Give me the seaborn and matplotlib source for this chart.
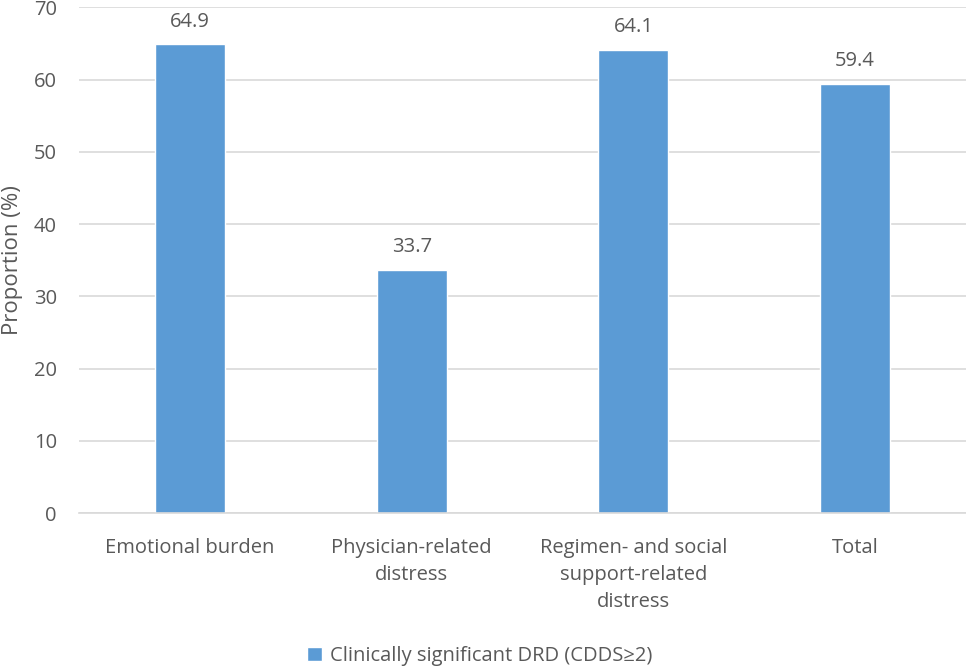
import pandas as pd
import matplotlib.pyplot as plt
import seaborn as sns

# data
categories = ["Emotional burden", "Physician-related\ndistress",
              "Regimen- and social\nsupport-related\ndistress", "Total"]
proportions = [64.9, 33.7, 64.1, 59.4]
series_name = "Clinically significant DRD (CDDS\u22652)"
yticks = [0, 10, 20, 30, 40, 50, 60, 70]

bar_color = "#5B9BD5"
text_color = "#595959"

sns.set_style("white")
plt.rcParams['font.family'] = ['Open Sans', 'DejaVu Sans']

df = pd.DataFrame({"category": categories, "value": proportions, "series": series_name})

fig = plt.figure(figsize=(9.66, 6.68), dpi=100)
ax = fig.add_axes([0.082, 0.232, 0.918, 0.757])

sns.barplot(data=df, x="category", y="value", hue="series",
            palette=[bar_color], width=0.316, saturation=1, ax=ax)

ax.set_ylim(0, 70)
ax.set_yticks(yticks)
ax.set_xlim(-0.5, len(categories) - 0.5)
ax.yaxis.grid(True, color="#D9D9D9", linewidth=1.2)
ax.set_axisbelow(True)
for side in ["top", "right", "left"]:
    ax.spines[side].set_visible(False)
ax.spines["bottom"].set_color("#D9D9D9")
ax.spines["bottom"].set_linewidth(1.2)
ax.tick_params(axis="y", length=0, labelsize=14.5, colors=text_color, pad=16)
ax.tick_params(axis="x", length=0, labelsize=14.5, colors=text_color, pad=18)
for lbl in ax.get_xticklabels():
    lbl.set_linespacing(1.45)
ax.set_xlabel("")
ax.set_ylabel("Proportion (%)", fontsize=16, color=text_color, va="center")
ax.yaxis.set_label_coords(-0.0755, 0.5)

for cont in ax.containers:
    ax.bar_label(cont, fmt="%.1f", padding=9, fontsize=14.5, color=text_color)

ax.legend().remove()
handles, labels = ax.get_legend_handles_labels()
leg = fig.legend(handles, labels, loc="center", bbox_to_anchor=(0.497, 0.018),
                 frameon=False, fontsize=14.5, handlelength=0.75, handleheight=0.75,
                 handletextpad=0.4)
for t in leg.get_texts():
    t.set_color(text_color)

fig.savefig("out.png", dpi=100)
